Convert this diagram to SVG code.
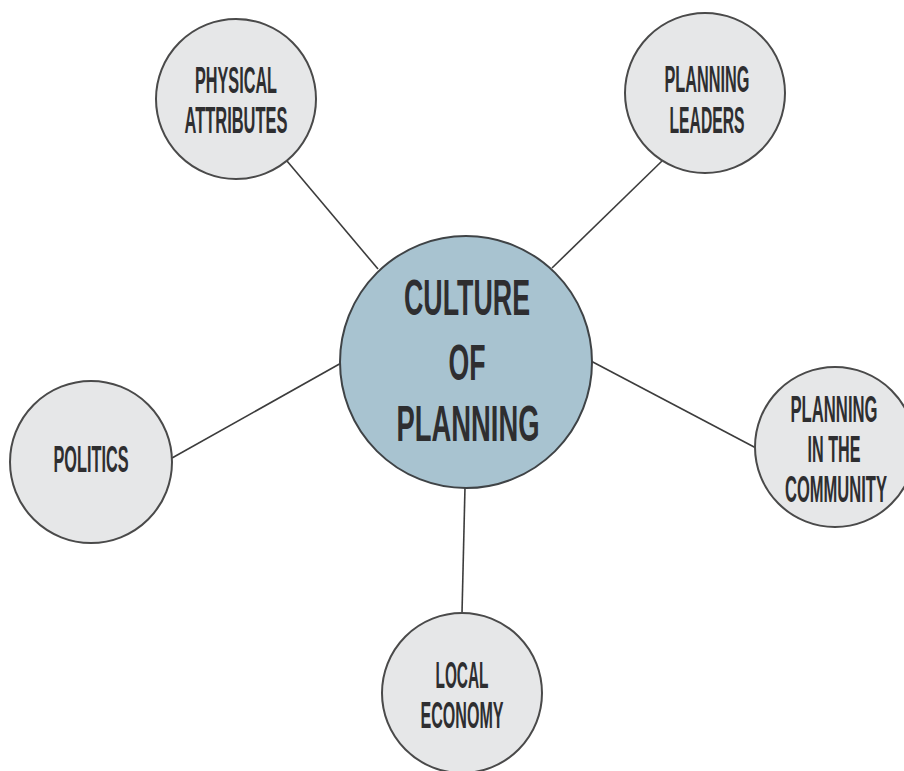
<svg xmlns="http://www.w3.org/2000/svg" width="904" height="771" viewBox="0 0 904 771">
  <style>
    .node { fill: #e6e7e8; stroke: #4a4a4a; stroke-width: 2; }
    .hub { fill: #a8c3d0; stroke: #3f4346; stroke-width: 2; }
    .link { stroke: #3c3c3c; stroke-width: 1.6; fill: none; }
    .lbl { font-family: "Liberation Sans", Arial, sans-serif; font-weight: bold; font-size: 37px; fill: #2e2e30; text-anchor: middle; }
    .big { font-size: 50px; }
  </style>
  <rect width="904" height="771" fill="#ffffff"/>

  <!-- spokes from the hub to each theme -->
  <g id="connectors">
    <line class="link" x1="287" y1="161" x2="378" y2="269"/>
    <line class="link" x1="552" y1="268" x2="662" y2="161"/>
    <line class="link" x1="172" y1="458" x2="343" y2="362"/>
    <line class="link" x1="589" y1="360" x2="756" y2="448"/>
    <line class="link" x1="465" y1="487" x2="462" y2="613"/>
  </g>

  <g id="culture-of-planning">
    <circle class="hub" cx="466" cy="362" r="126"/>
    <text class="lbl big" x="467" y="315" textLength="126" lengthAdjust="spacingAndGlyphs">CULTURE</text>
    <text class="lbl big" x="467" y="380" textLength="37" lengthAdjust="spacingAndGlyphs">OF</text>
    <text class="lbl big" x="468" y="441" textLength="143" lengthAdjust="spacingAndGlyphs">PLANNING</text>
  </g>

  <g id="physical-attributes">
    <circle class="node" cx="236" cy="99" r="80"/>
    <text class="lbl" x="236" y="93" textLength="82" lengthAdjust="spacingAndGlyphs">PHYSICAL</text>
    <text class="lbl" x="236" y="133" textLength="103" lengthAdjust="spacingAndGlyphs">ATTRIBUTES</text>
  </g>

  <g id="planning-leaders">
    <circle class="node" cx="705" cy="93" r="80"/>
    <text class="lbl" x="707" y="92" textLength="85" lengthAdjust="spacingAndGlyphs">PLANNING</text>
    <text class="lbl" x="707" y="133" textLength="75" lengthAdjust="spacingAndGlyphs">LEADERS</text>
  </g>

  <g id="politics">
    <circle class="node" cx="91" cy="462" r="81"/>
    <text class="lbl" x="91" y="472" textLength="75" lengthAdjust="spacingAndGlyphs">POLITICS</text>
  </g>

  <g id="planning-in-the-community">
    <circle class="node" cx="835" cy="447" r="80"/>
    <text class="lbl" x="834" y="422" textLength="87" lengthAdjust="spacingAndGlyphs">PLANNING</text>
    <text class="lbl" x="834" y="462" textLength="53" lengthAdjust="spacingAndGlyphs">IN THE</text>
    <text class="lbl" x="836" y="502" textLength="102" lengthAdjust="spacingAndGlyphs">COMMUNITY</text>
  </g>

  <g id="local-economy">
    <circle class="node" cx="462" cy="693" r="80"/>
    <text class="lbl" x="462" y="688" textLength="53" lengthAdjust="spacingAndGlyphs">LOCAL</text>
    <text class="lbl" x="462" y="728" textLength="83" lengthAdjust="spacingAndGlyphs">ECONOMY</text>
  </g>
</svg>
